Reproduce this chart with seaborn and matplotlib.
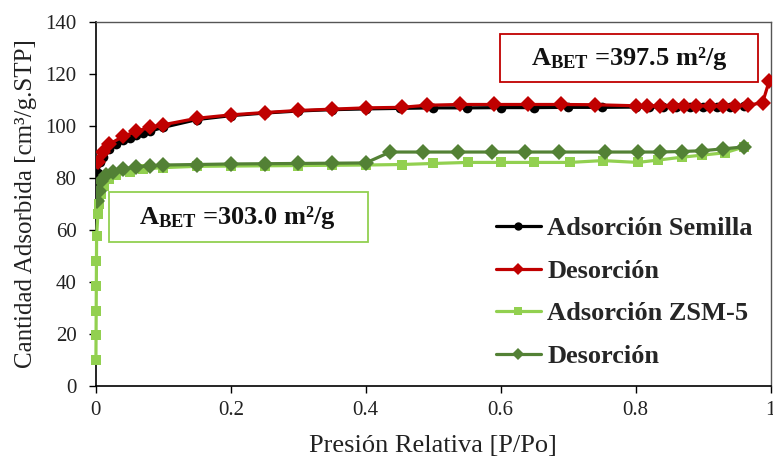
import matplotlib
matplotlib.use("Agg")
import matplotlib.pyplot as plt
from matplotlib.patches import Rectangle
import seaborn as sns
import pandas as pd

# ---- data ----
semilla_ads_x = [0.001, 0.003, 0.006, 0.01, 0.02, 0.03, 0.04, 0.05, 0.06, 0.07, 0.08, 0.1,
                 0.15, 0.2, 0.25, 0.3, 0.35, 0.4, 0.45, 0.5, 0.55, 0.6, 0.65, 0.7, 0.75,
                 0.8, 0.82, 0.84, 0.86, 0.88, 0.9, 0.92, 0.94, 0.96]
semilla_ads_y = [77, 82, 86, 88, 91, 93, 94.5, 95.5, 96.5, 97.5, 98, 99.5,
                 102.5, 104, 105, 105.8, 106.3, 106.6, 106.8, 107, 107, 107.1, 107.1, 107.2, 107.2,
                 107.3, 107.3, 107.3, 107.3, 107.4, 107.4, 107.5, 107.5, 107.6]

semilla_des_x = [0.998, 0.988, 0.966, 0.947, 0.93, 0.91, 0.89, 0.872, 0.855, 0.836, 0.817, 0.80,
                 0.74, 0.69, 0.64, 0.59, 0.54, 0.49, 0.453, 0.40, 0.35, 0.30, 0.25, 0.20,
                 0.15, 0.10, 0.08, 0.06, 0.04, 0.02, 0.01, 0.003]
semilla_des_y = [117.5, 109, 108, 107.8, 107.8, 107.8, 107.8, 107.8, 107.8, 107.8, 107.8, 107.8,
                 108.2, 108.3, 108.3, 108.3, 108.3, 108, 107.2, 107, 106.5, 106, 105.2, 104.3,
                 103, 100.5, 99.5, 98, 96, 93, 90, 86]

zsm_ads_x = [0.0001, 0.0003, 0.0005, 0.0007, 0.0009, 0.0011, 0.003, 0.005, 0.008, 0.012,
             0.02, 0.03, 0.05, 0.07, 0.1, 0.15, 0.2, 0.25, 0.3, 0.35, 0.4, 0.453, 0.5,
             0.551, 0.6, 0.65, 0.702, 0.751, 0.803, 0.833, 0.868, 0.898, 0.932, 0.961]
zsm_ads_y = [10, 19.5, 29, 38.5, 48, 57.5, 66, 70, 74, 77,
             79.5, 81, 82.5, 83.5, 84, 84.5, 84.6, 84.7, 84.8, 84.9, 85, 85.2, 85.6,
             86, 86, 86, 86, 86.7, 86, 86.9, 88, 88.8, 89.7, 92]

zsm_des_x = [0.961, 0.929, 0.898, 0.868, 0.836, 0.803, 0.754, 0.687, 0.636, 0.587, 0.536,
             0.485, 0.436, 0.40, 0.35, 0.30, 0.25, 0.20, 0.15, 0.10, 0.08, 0.06, 0.04,
             0.025, 0.015, 0.008, 0.004, 0.002]
zsm_des_y = [92, 91.2, 90.5, 90.2, 90, 90, 90, 90, 90, 90, 90,
             90, 90, 85.8, 85.7, 85.6, 85.5, 85.4, 85.2, 85, 84.7, 84.2, 83.5,
             82.5, 81, 79, 75, 71]

labels = ["Adsorción Semilla", "Desorción", "Adsorción ZSM-5", "Desorción"]
x_ticks = [0, 0.2, 0.4, 0.6, 0.8, 1]
x_ticklabels = ["0", "0.2", "0.4", "0.6", "0.8", "1"]
y_ticks = [0, 20, 40, 60, 80, 100, 120, 140]
bet_texts = [r"$\mathbf{A_{BET}}$ =397.5 m²/g", r"$\mathbf{A_{BET}}$ =303.0 m²/g"]

# ---- style ----
sns.set_theme(style="white")
plt.rcParams["font.family"] = ["Liberation Serif", "DejaVu Serif"]
plt.rcParams["mathtext.fontset"] = "custom"
plt.rcParams["mathtext.rm"] = "Liberation Serif"
plt.rcParams["mathtext.bf"] = "Liberation Serif:bold"

fig = plt.figure(figsize=(7.73, 4.61), dpi=100)
ax = fig.add_axes([0.124, 0.163, 0.873, 0.789])

series = [
    (semilla_ads_x, semilla_ads_y, "#000000", "o", 7, True),
    (semilla_des_x, semilla_des_y, "#C00000", "D", 8.3, True),
    (zsm_ads_x, zsm_ads_y, "#92D050", "s", 7.5, False),
    (zsm_des_x, zsm_des_y, "#538135", "D", 8.3, True),
]

for (xs, ys, col, mk, ms, clip), lab in zip(series, labels):
    df = pd.DataFrame({"x": xs, "y": ys})
    sns.lineplot(data=df, x="x", y="y", ax=ax, color=col, marker=mk, markersize=ms,
                 markeredgewidth=0, linewidth=2.3, sort=False, estimator=None, label=lab,
                 zorder=3, clip_on=clip)

ax.set_xlim(0, 1)
ax.set_ylim(0, 140)
ax.set_xticks(x_ticks)
ax.set_xticklabels(x_ticklabels)
ax.set_yticks(y_ticks)
ax.tick_params(axis="both", labelsize=15, length=5, width=1, direction="out", color="black",
               bottom=True, left=True, labelcolor="#222222")
ax.tick_params(axis="x", pad=6)
ax.tick_params(axis="y", pad=9)
ax.set_xlabel("Presión Relativa [P/Po]", fontsize=19, color="#222222", labelpad=11)
ax.set_ylabel("Cantidad Adsorbida [cm³/g.STP]", fontsize=18, color="#222222", labelpad=6)

for s in ["left", "bottom"]:
    ax.spines[s].set_color("black")
    ax.spines[s].set_linewidth(1.2)
for s in ["top", "right"]:
    ax.spines[s].set_color("#555555")
    ax.spines[s].set_linewidth(1.0)

leg = ax.legend(loc="center left", bbox_to_anchor=(0.593, 0.257), frameon=False,
                prop={"family": "Liberation Serif", "weight": "bold", "size": 19},
                handlelength=1.7, handletextpad=0.25, labelspacing=0.73,
                borderaxespad=0, borderpad=0)
for h in leg.legend_handles:
    h.set_markersize(6)

# annotation boxes (axes fraction)
boxes = [((0.5985, 0.835), 0.3825, 0.132, "#C00000", (0.79, 0.901)),
         ((0.019, 0.396), 0.384, 0.137, "#92D050", (0.21, 0.464))]
for ((x0, y0), w, h, ec, (tx, ty)), txt in zip(boxes, bet_texts):
    ax.add_patch(Rectangle((x0, y0), w, h, transform=ax.transAxes, facecolor="white",
                           edgecolor=ec, linewidth=1.3, zorder=5))
    ax.text(tx, ty, txt, transform=ax.transAxes, ha="center", va="center", fontsize=19,
            fontweight="bold", color="#111111", zorder=6)

fig.savefig("out.png", dpi=100)
